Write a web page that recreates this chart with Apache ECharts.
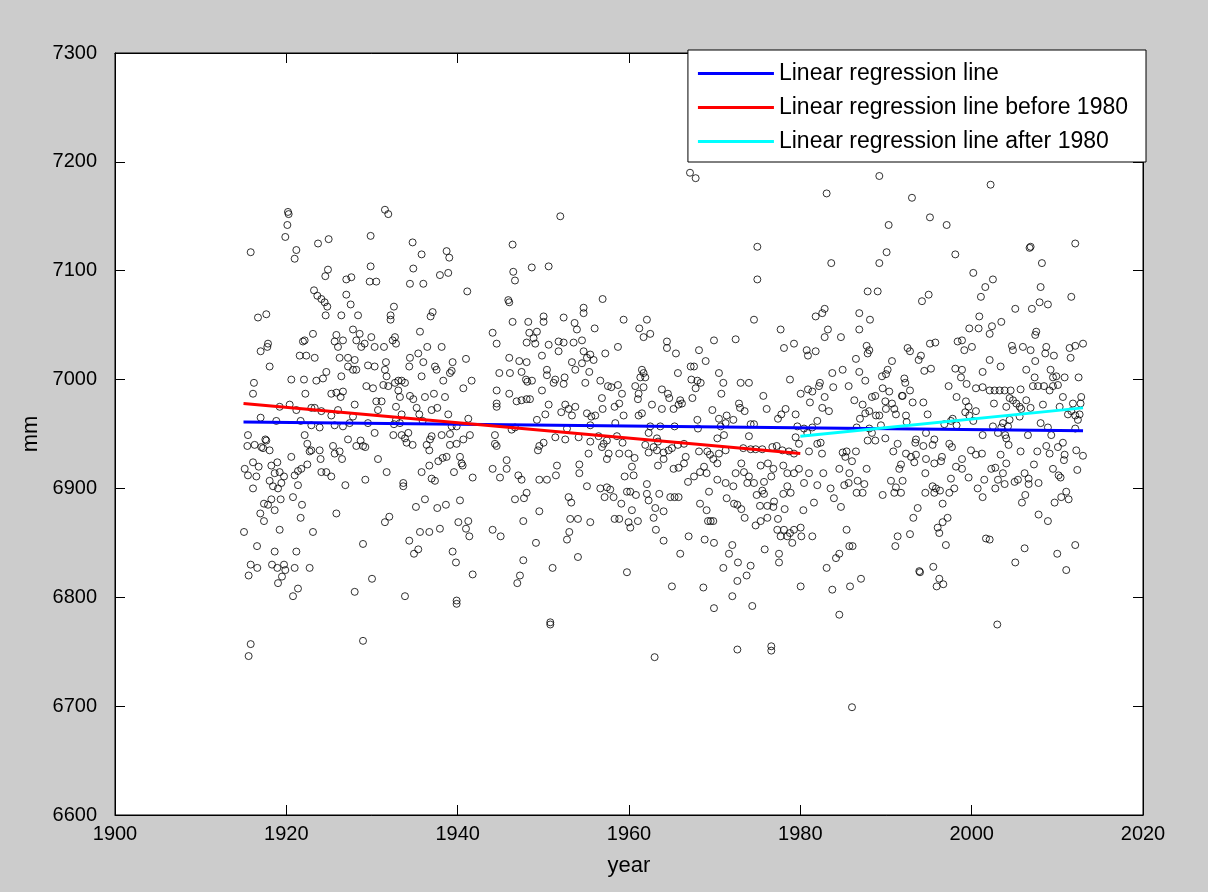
<!DOCTYPE html>
<html lang="en">
<head>
    <meta charset="UTF-8">
    <title>mm vs year</title>
    <script src="https://cdn.jsdelivr.net/npm/echarts@6.0.0/dist/echarts.min.js"></script>
    <style>
        html, body {
            margin: 0;
            padding: 0;
            background: #cccccc;
        }
        #chart {
            width: 1208px;
            height: 892px;
        }
    </style>
</head>
<body>
<div id="chart"></div>
<script type="text/javascript">
    // monthly values [year, mm], one block per period
    const pts1915to1930 = [
        [1920.19,7154],[1920.27,7152],[1920.12,7142],[1919.88,7131],[1915.84,7117],[1921.17,7119],[1920.97,7111],[1923.70,7125],
        [1924.94,7129],[1929.84,7132],[1929.84,7104],[1924.86,7101],[1924.55,7095],[1927.00,7092],[1927.59,7094],[1929.73,7090],
        [1930.50,7090],[1923.23,7082],[1923.62,7077],[1924.09,7074],[1924.47,7071],[1924.78,7067],[1924.59,7059],[1927.00,7078],
        [1927.51,7069],[1926.42,7059],[1928.37,7059],[1916.69,7057],[1917.66,7060],[1923.11,7042],[1922.14,7036],[1921.94,7035],
        [1925.84,7041],[1926.61,7036],[1925.64,7035],[1926.03,7030],[1927.78,7046],[1928.56,7042],[1928.17,7036],[1928.75,7030],
        [1929.14,7033],[1929.92,7039],[1930.31,7030],[1917.86,7033],[1917.78,7030],[1917.00,7026],[1921.56,7022],[1922.33,7022],
        [1923.31,7020],[1926.22,7020],[1927.20,7020],[1927.98,7018],[1927.78,7009],[1928.17,7009],[1929.53,7013],[1930.31,7012],
        [1927.20,7012],[1918.05,7012],[1920.58,7000],[1922.06,7000],[1923.50,6999],[1924.28,7001],[1924.67,7007],[1926.42,7003],
        [1916.22,6997],[1916.11,6987],[1922.22,6987],[1925.25,6987],[1925.84,6988],[1926.61,6989],[1926.34,6984],[1929.34,6994],
        [1930.12,6992],[1919.22,6975],[1920.39,6977],[1921.17,6972],[1922.92,6974],[1923.31,6974],[1924.09,6971],[1925.25,6967],
        [1926.03,6972],[1927.98,6977],[1927.78,6966],[1930.50,6980],[1930.70,6972],[1917.00,6965],[1918.83,6962],[1921.67,6962],
        [1922.92,6958],[1923.89,6956],[1925.64,6958],[1926.61,6957],[1927.39,6960],[1929.53,6960],[1930.31,6951],[1915.52,6949],
        [1917.66,6944],[1922.14,6949],[1927.20,6945],
        [1915.45,6939],[1916.30,6940],[1917.08,6938],[1917.28,6937],[1917.55,6945],[1918.05,6935],[1922.45,6941],[1922.72,6934],
        [1922.92,6935],[1923.89,6935],[1924.00,6927],[1925.45,6939],[1925.64,6932],[1926.22,6934],[1926.50,6927],[1928.17,6939],
        [1928.67,6944],[1928.95,6939],[1929.22,6938],[1930.70,6927],[1915.14,6918],[1916.11,6924],[1916.77,6920],[1916.50,6911],
        [1915.52,6912],[1916.11,6900],[1918.25,6921],[1918.95,6924],[1918.64,6914],[1918.05,6907],[1918.44,6902],[1919.03,6900],
        [1919.42,6905],[1919.73,6911],[1919.22,6915],[1920.58,6929],[1920.97,6912],[1921.36,6916],[1921.75,6918],[1922.45,6922],
        [1921.36,6903],[1924.09,6915],[1924.67,6915],[1925.25,6911],[1926.89,6903],[1929.22,6908],[1918.25,6890],[1917.39,6886],
        [1917.86,6885],[1918.64,6880],[1919.34,6890],[1920.78,6892],[1921.83,6885],[1916.96,6877],[1917.39,6870],[1921.67,6873],
        [1925.84,6877],[1915.06,6860],[1919.22,6862],[1923.11,6860],[1916.58,6847],[1918.64,6842],[1921.17,6842],[1928.95,6849],
        [1915.84,6830],[1916.61,6827],[1915.60,6820],[1918.33,6830],[1918.95,6827],[1919.73,6830],[1919.88,6825],[1919.49,6819],
        [1920.97,6827],[1922.72,6827],[1919.03,6813],[1921.36,6808],[1920.78,6801],[1927.98,6805],[1930.00,6817],[1915.84,6757],
        [1915.60,6746],[1928.95,6760]
    ];
    const pts1931to1948 = [
        [1931.51,7156],[1931.90,7152],[1934.74,7126],[1935.79,7115],[1938.71,7118],[1939.02,7112],[1934.82,7102],[1946.41,7124],
        [1948.65,7103],[1937.93,7096],[1938.90,7098],[1934.43,7088],[1935.99,7088],[1941.12,7081],[1946.49,7099],[1946.69,7091],
        [1945.91,7073],[1946.02,7071],[1932.56,7067],[1932.17,7059],[1932.17,7055],[1937.08,7062],[1936.84,7058],[1935.60,7044],
        [1946.41,7053],[1948.24,7053],[1944.08,7043],[1944.55,7033],[1948.05,7034],[1948.36,7043],[1932.68,7039],[1932.41,7036],
        [1932.80,7033],[1931.40,7030],[1936.45,7030],[1938.13,7030],[1935.40,7024],[1934.43,7020],[1935.99,7016],[1934.35,7012],
        [1931.63,7016],[1931.51,7009],[1937.35,7012],[1937.54,7009],[1939.41,7016],[1939.30,7008],[1939.10,7006],[1940.97,7019],
        [1946.02,7020],[1947.19,7017],[1948.05,7016],[1946.10,7006],[1947.46,7007],[1947.97,7000],[1948.13,6998],[1935.79,7003],
        [1938.32,6999],[1941.63,6999],[1940.66,6992],[1944.86,7006],[1931.70,7003],[1931.90,6994],[1932.68,6997],[1933.07,6999],
        [1933.46,6999],[1933.85,6997],[1933.07,6990],[1933.26,6984],[1931.32,6995],[1944.55,6990],[1944.55,6978],[1944.55,6975],
        [1946.02,6987],[1946.88,6980],[1947.46,6981],[1948.05,6982],[1948.44,6982],[1934.43,6985],[1934.82,6982],[1936.18,6984],
        [1937.23,6987],[1938.52,6984],[1931.12,6980],[1932.80,6975],[1935.21,6974],[1935.52,6968],[1936.96,6972],[1937.62,6974],
        [1938.90,6968],[1941.24,6964],[1933.46,6968],[1932.80,6963],[1933.26,6960],[1932.56,6959],[1935.91,6962],[1939.30,6957],
        [1939.88,6957],[1946.30,6954],[1946.69,6956],[1932.49,6949],[1933.46,6949],[1934.24,6951],[1936.96,6948],[1938.13,6949],
        [1939.10,6950],[1941.43,6949],[1944.35,6949],
        [1934.04,6942],[1934.74,6940],[1933.85,6946],[1936.38,6940],[1936.77,6945],[1939.10,6940],[1939.88,6941],[1940.66,6945],
        [1936.69,6935],[1944.35,6941],[1944.55,6939],[1931.71,6915],[1935.79,6915],[1936.69,6921],[1937.74,6925],[1938.25,6928],
        [1938.71,6929],[1940.27,6929],[1940.46,6923],[1940.58,6921],[1939.57,6915],[1941.75,6910],[1933.65,6905],[1933.65,6902],
        [1936.96,6909],[1937.35,6907],[1944.08,6918],[1944.94,6910],[1945.72,6926],[1945.72,6918],[1947.08,6912],[1947.46,6908],
        [1948.05,6896],[1947.74,6891],[1946.69,6890],[1935.13,6883],[1936.18,6890],[1937.62,6882],[1938.63,6885],[1940.27,6889],
        [1932.02,6874],[1931.51,6869],[1940.08,6869],[1941.24,6870],[1940.97,6863],[1941.36,6856],[1944.08,6862],[1945.02,6856],
        [1947.66,6870],[1935.60,6860],[1936.69,6860],[1937.93,6863],[1934.35,6852],[1935.40,6844],[1934.90,6840],[1939.41,6842],
        [1939.80,6832],[1941.75,6821],[1947.66,6834],[1947.27,6820],[1946.96,6813],[1933.85,6801],[1939.88,6797],[1939.88,6794]
    ];
    const pts1949to1966 = [
        [1951.98,7150],[1950.62,7104],[1956.92,7074],[1954.70,7066],[1954.70,7061],[1952.37,7057],[1953.65,7052],[1953.92,7046],
        [1950.03,7058],[1950.03,7053],[1955.99,7047],[1959.37,7055],[1962.09,7055],[1961.20,7047],[1961.70,7039],[1962.48,7042],
        [1964.43,7035],[1964.43,7029],[1965.48,7024],[1949.25,7044],[1948.86,7038],[1949.06,7033],[1950.62,7032],[1951.78,7035],
        [1952.37,7034],[1951.78,7026],[1953.53,7034],[1954.51,7036],[1949.84,7022],[1954.70,7026],[1955.48,7023],[1955.09,7020],
        [1955.87,7018],[1954.51,7015],[1953.34,7016],[1953.73,7009],[1955.36,7007],[1957.23,7024],[1958.71,7030],[1950.42,7009],
        [1950.42,7004],[1951.39,7000],[1951.20,6997],[1952.48,7002],[1952.37,6996],[1954.90,6997],[1956.65,6999],[1961.51,7009],
        [1961.70,7006],[1961.32,7002],[1961.90,7002],[1960.73,6994],[1961.70,6993],[1961.12,6987],[1961.04,6982],[1957.54,6994],
        [1957.93,6993],[1958.71,6995],[1959.18,6987],[1958.86,6978],[1958.32,6975],[1963.84,6991],[1964.54,6987],[1964.70,6983],
        [1965.71,7006],[1965.98,6981],[1966.18,6978],[1948.67,6999],[1949.84,6990],[1950.62,6977],[1950.23,6968],[1949.25,6963],
        [1952.56,6977],[1953.73,6975],[1952.09,6970],[1952.95,6973],[1953.34,6967],[1955.09,6969],[1955.60,6966],[1956.06,6967],
        [1956.92,6973],[1956.84,6983],[1959.37,6967],[1958.40,6960],[1961.12,6967],[1961.51,6969],[1962.68,6977],[1963.84,6973],
        [1965.20,6973],[1965.79,6977],[1952.76,6955],[1955.48,6958],[1962.48,6957],[1963.65,6957],[1965.32,6957],[1962.29,6951],
        [1951.40,6947],[1952.56,6945],[1954.12,6947],[1956.45,6948],[1958.59,6948],[1963.26,6946],
        [1950.03,6942],[1949.53,6939],[1949.37,6935],[1955.48,6943],[1957.04,6941],[1957.42,6944],[1959.25,6942],[1956.84,6938],
        [1955.28,6932],[1957.42,6927],[1957.62,6932],[1958.86,6932],[1959.95,6932],[1960.65,6928],[1960.34,6920],[1961.90,6940],
        [1962.29,6933],[1962.87,6938],[1963.38,6943],[1963.26,6935],[1964.04,6933],[1964.62,6935],[1965.01,6937],[1965.71,6940],
        [1963.38,6921],[1964.04,6927],[1965.20,6918],[1965.79,6919],[1951.59,6921],[1951.47,6912],[1950.42,6908],[1949.53,6908],
        [1954.20,6922],[1954.20,6914],[1959.49,6911],[1960.54,6912],[1955.09,6902],[1956.65,6900],[1957.42,6901],[1957.81,6899],
        [1957.15,6892],[1958.20,6892],[1959.10,6886],[1959.76,6897],[1960.15,6897],[1960.81,6894],[1960.34,6880],[1962.09,6904],
        [1962.09,6895],[1962.29,6889],[1963.07,6882],[1962.87,6873],[1964.04,6879],[1963.53,6895],[1964.82,6892],[1965.32,6892],
        [1965.79,6892],[1952.95,6892],[1953.26,6887],[1949.53,6879],[1953.14,6872],[1954.04,6872],[1955.48,6869],[1958.32,6872],
        [1958.86,6872],[1959.95,6869],[1960.15,6864],[1961.04,6870],[1953.03,6860],[1952.76,6853],[1949.14,6850],[1963.14,6862],
        [1964.04,6852],[1954.04,6837],[1951.08,6827],[1959.76,6823],[1965.98,6840],[1965.01,6810],[1950.81,6777],[1950.81,6775],
        [1962.99,6745]
    ];
    const pts1966to1984 = [
        [1967.12,7190],[1967.78,7185],[1983.07,7171],[1974.98,7122],[1974.98,7092],[1983.61,7107],[1974.59,7055],[1982.84,7065],
        [1981.79,7058],[1982.56,7061],[1983.22,7046],[1982.84,7039],[1977.70,7046],[1972.45,7037],[1969.92,7036],[1968.17,7027],
        [1968.95,7017],[1978.09,7029],[1979.26,7033],[1980.74,7027],[1980.89,7022],[1981.79,7026],[1967.20,7012],[1967.59,7012],
        [1967.28,7000],[1967.98,6999],[1968.37,6997],[1967.78,6992],[1970.50,7006],[1971.01,6997],[1970.78,6987],[1967.40,6983],
        [1973.03,6997],[1974.00,6997],[1975.68,6985],[1978.79,7000],[1980.04,6987],[1980.89,6991],[1981.40,6989],[1982.18,6994],
        [1982.29,6997],[1981.12,6979],[1982.84,6984],[1983.73,7006],[1983.84,6993],[1972.84,6978],[1972.96,6974],[1973.50,6971],
        [1969.73,6972],[1970.50,6964],[1971.40,6967],[1971.28,6960],[1972.18,6963],[1970.70,6957],[1976.07,6973],[1977.39,6964],
        [1977.78,6968],[1978.28,6973],[1979.45,6968],[1982.56,6974],[1983.34,6971],[1981.98,6962],[1967.98,6963],[1968.05,6955],
        [1974.20,6959],[1974.59,6959],[1979.65,6957],[1980.43,6955],[1981.40,6956],[1980.81,6951],[1971.09,6949],[1974.00,6948],
        [1970.31,6946],[1979.45,6947],
        [1966.42,6941],[1966.62,6929],[1966.42,6923],[1968.17,6934],[1969.14,6934],[1969.45,6931],[1969.84,6927],[1970.31,6923],
        [1971.28,6935],[1970.50,6932],[1968.76,6920],[1968.29,6915],[1966.89,6906],[1967.59,6911],[1969.06,6914],[1973.34,6937],
        [1974.20,6936],[1974.78,6936],[1975.56,6936],[1976.73,6938],[1977.24,6939],[1977.90,6935],[1978.67,6934],[1979.26,6932],
        [1979.84,6941],[1981.98,6941],[1982.37,6942],[1981.01,6934],[1982.53,6932],[1973.11,6923],[1972.45,6914],[1973.42,6915],
        [1974.00,6911],[1973.81,6905],[1974.59,6905],[1975.37,6921],[1976.22,6923],[1976.85,6918],[1975.76,6906],[1976.61,6911],
        [1970.31,6908],[1971.28,6905],[1972.18,6902],[1969.34,6897],[1978.01,6921],[1978.48,6914],[1979.26,6914],[1979.84,6918],
        [1981.01,6914],[1982.68,6914],[1983.53,6900],[1983.92,6891],[1980.43,6905],[1981.98,6903],[1978.48,6902],[1978.87,6896],
        [1978.01,6895],[1974.90,6894],[1975.56,6898],[1975.76,6895],[1976.15,6884],[1976.93,6888],[1976.85,6883],[1975.29,6884],
        [1971.40,6891],[1972.26,6886],[1973.11,6881],[1973.50,6873],[1972.65,6885],[1968.29,6886],[1969.06,6880],[1969.22,6870],
        [1969.53,6870],[1969.84,6870],[1974.78,6866],[1975.37,6870],[1976.15,6873],[1977.39,6872],[1978.17,6881],[1980.35,6880],
        [1981.59,6887],[1977.31,6862],[1978.09,6862],[1978.79,6859],[1979.26,6862],[1980.04,6864],[1980.12,6856],[1981.40,6856],
        [1977.70,6856],[1978.48,6856],[1979.06,6850],[1966.96,6856],[1968.83,6853],[1969.92,6850],[1972.06,6848],[1971.67,6840],
        [1972.72,6832],[1974.20,6829],[1973.73,6820],[1972.65,6815],[1971.01,6827],[1975.84,6844],[1977.51,6840],[1977.51,6832],
        [1968.68,6809],[1972.06,6801],[1969.92,6790],[1974.39,6792],[1980.04,6810],[1983.07,6827],[1983.73,6807],[1972.65,6752],
        [1976.61,6755],[1976.61,6751]
    ];
    const pts1984to2001 = [
        [1989.22,7187],[1993.03,7167],[1995.13,7149],[1997.08,7142],[1990.31,7142],[1990.07,7117],[1989.22,7107],[1998.09,7115],
        [2000.19,7098],[2001.59,7085],[2001.08,7076],[1987.86,7081],[1989.03,7081],[1994.20,7072],[1994.98,7078],[1986.88,7061],
        [1988.13,7055],[1986.88,7046],[1984.74,7039],[2000.89,7058],[1999.72,7047],[2000.81,7047],[1995.13,7033],[1995.76,7034],
        [1998.36,7035],[1998.87,7036],[1999.14,7027],[2000.03,7030],[1987.74,7031],[1987.86,7024],[1988.05,7027],[1992.52,7029],
        [1992.80,7026],[1994.08,7022],[1993.81,7018],[1994.47,7008],[1995.25,7010],[1986.49,7019],[1984.94,7009],[1986.88,7007],
        [1987.58,6999],[1985.64,6994],[1990.70,7017],[1990.19,7009],[1990.00,7005],[1989.53,7003],[1992.14,7001],[1992.25,6997],
        [1992.80,6990],[1991.86,6985],[1993.11,6979],[1994.36,6979],[1998.09,7010],[1998.87,7009],[1998.75,7002],[1997.31,6994],
        [1999.41,6996],[2000.50,6992],[2001.28,6993],[2001.28,7007],[1989.61,6992],[1990.38,6989],[1989.92,6980],[1990.70,6978],
        [1989.99,6973],[1988.36,6984],[1988.75,6985],[1986.30,6981],[1987.27,6977],[1988.05,6971],[1988.83,6967],[1989.22,6967],
        [1987.58,6969],[1986.96,6964],[1986.57,6956],[1988.05,6955],[1988.36,6951],[1989.41,6958],[1990.97,6973],[1991.16,6968],
        [1991.94,6985],[1992.33,6967],[1992.41,6961],[1994.86,6968],[1998.24,6984],[1999.33,6980],[1999.64,6975],[1999.25,6970],
        [1999.72,6967],[2000.19,6962],[2000.50,6971],[1996.81,6959],[1997.58,6962],[1998.24,6958],[1997.78,6964],[1994.67,6951],
        [1993.50,6945],[1995.64,6945],[2001.28,6949],
        [1987.86,6944],[1988.75,6944],[1989.92,6946],[1991.36,6941],[1993.42,6942],[1994.36,6939],[1995.44,6940],[1984.94,6933],
        [1985.40,6934],[1986.49,6934],[1985.25,6929],[1986.03,6925],[1984.55,6918],[1987.74,6918],[1990.85,6934],[1992.33,6932],
        [1992.92,6929],[1993.50,6931],[1993.30,6924],[1991.75,6922],[1991.55,6918],[1994.67,6927],[1995.64,6923],[1996.42,6925],
        [1996.53,6929],[1997.39,6941],[1997.70,6938],[1998.87,6927],[1998.17,6920],[1998.87,6918],[1999.64,6910],[1999.92,6935],
        [2000.50,6931],[2001.20,6932],[1994.59,6914],[1985.72,6914],[1985.64,6905],[1985.13,6903],[1986.69,6907],[1987.47,6904],
        [1986.57,6896],[1987.27,6896],[1989.61,6894],[1990.58,6907],[1991.16,6901],[1991.94,6907],[1990.97,6896],[1991.75,6896],
        [1994.59,6896],[1995.44,6902],[1995.83,6900],[1996.30,6898],[1995.64,6896],[1997.58,6909],[1997.97,6900],[1997.39,6896],
        [2000.70,6900],[2001.28,6892],[2001.47,6908],[1984.74,6883],[1996.61,6886],[1993.70,6882],[1993.19,6873],[1997.19,6873],
        [1996.61,6869],[1996.03,6864],[1996.22,6859],[1996.99,6848],[1985.40,6862],[1991.36,6856],[1992.80,6858],[1991.09,6847],
        [1985.72,6847],[1986.10,6847],[1984.55,6840],[1984.16,6836],[2001.67,6854],[1993.89,6824],[1993.97,6823],[1995.52,6828],
        [1996.22,6817],[1995.91,6810],[1996.69,6812],[1987.08,6817],[1985.80,6810],[1984.55,6784],[1986.03,6699]
    ];
    const pts2002to2013 = [
        [2002.21,7179],[2006.88,7122],[2006.76,7121],[2012.09,7125],[2008.20,7107],[2008.05,7085],[2002.48,7092],[2011.63,7076],
        [2007.93,7071],[2008.90,7069],[2007.03,7065],[2005.09,7065],[2003.46,7053],[2002.37,7049],[2002.10,7042],[2007.54,7044],
        [2007.42,7041],[2004.70,7031],[2005.98,7030],[2006.88,7027],[2004.82,7027],[2008.71,7030],[2008.59,7024],[2009.60,7022],
        [2011.43,7029],[2012.09,7031],[2013.00,7033],[2011.55,7020],[2007.42,7017],[2002.10,7018],[2003.38,7012],[2006.37,7009],
        [2009.21,7009],[2009.88,7003],[2009.49,7002],[2010.85,7002],[2012.48,7002],[2007.35,7002],[2007.15,6994],[2007.74,6994],
        [2008.44,6994],[2009.10,6990],[2009.49,6994],[2010.07,6995],[2002.10,6990],[2002.68,6990],[2003.26,6990],[2003.85,6990],
        [2004.55,6990],[2005.71,6991],[2004.43,6983],[2004.82,6981],[2005.21,6978],[2005.60,6975],[2005.79,6973],[2002.60,6978],
        [2004.04,6975],[2006.37,6981],[2006.88,6974],[2008.32,6977],[2010.65,6984],[2010.27,6975],[2011.82,6978],[2012.79,6984],
        [2012.71,6978],[2011.24,6968],[2011.63,6971],[2012.09,6967],[2012.60,6968],[2012.40,6963],[2004.43,6963],[2005.60,6966],
        [2002.48,6957],[2003.46,6956],[2004.24,6957],[2003.65,6960],[2008.05,6960],[2008.90,6956],[2012.09,6955],[2006.57,6949],
        [2009.29,6949],[2003.07,6951],[2003.92,6949],
        [2004.04,6946],[2004.31,6940],[2005.71,6934],[2007.66,6934],[2008.71,6939],[2009.10,6932],[2010.07,6938],[2010.65,6942],
        [2010.85,6931],[2010.77,6926],[2012.21,6935],[2012.99,6930],[2003.38,6931],[2004.04,6923],[2002.76,6919],[2002.29,6918],
        [2003.65,6914],[2003.07,6908],[2002.76,6900],[2005.01,6906],[2005.40,6908],[2006.18,6914],[2006.65,6909],[2006.65,6904],
        [2007.81,6905],[2007.27,6922],[2009.49,6918],[2010.15,6912],[2010.38,6910],[2012.33,6917],[2003.85,6904],[2006.26,6894],
        [2005.87,6887],[2009.68,6887],[2011.04,6897],[2010.46,6892],[2011.32,6890],[2007.81,6876],[2008.90,6870],[2002.10,6853],
        [2006.18,6845],[2012.09,6848],[2009.99,6840],[2005.09,6832],[2011.04,6825],[2002.99,6775]
    ];

    // regression lines, end points
    const fitAll = [[1915.0, 6961], [2013.0, 6953]];
    const fitBefore1980 = [[1915.0, 6978], [1980.0, 6932]];
    const fitAfter1980 = [[1980.0, 6948], [2013.0, 6974]];

    const lineNames = ['Linear regression line', 'Linear regression line before 1980', 'Linear regression line after 1980'];

    const allPoints = [].concat(pts1915to1930, pts1931to1948, pts1949to1966, pts1966to1984, pts1984to2001, pts2002to2013);

    const font = "'Liberation Sans', Arial, sans-serif";
    const tick = {show: true, inside: true, length: 10, lineStyle: {color: '#000', width: 1}};
    const line = {show: true, onZero: false, lineStyle: {color: '#000', width: 1}};
    // plain numbers, no thousands separator
    const plain = function (v) { return String(v); };

    let myChart = echarts.init(document.getElementById('chart'), null, {renderer: 'canvas'});
    let option = {
        animation: false,
        backgroundColor: '#cccccc',
        grid: {
            left: 115, top: 53, width: 1028, height: 762,
            show: true, backgroundColor: '#ffffff', borderColor: '#000', borderWidth: 1
        },
        legend: {
            // thin rect icons so the legend shows plain line samples
            data: lineNames.map(function (n) { return {name: n, icon: 'rect'}; }),
            orient: 'vertical',
            right: 62,
            top: 50,
            padding: [12, 18, 9, 10],
            itemWidth: 76,
            itemHeight: 3,
            itemGap: 11,
            backgroundColor: '#ffffff',
            borderColor: '#000',
            borderWidth: 1,
            borderRadius: 0,
            textStyle: {fontFamily: font, fontSize: 23, color: '#000'}
        },
        xAxis: [{
            type: 'value', min: 1900, max: 2020, interval: 20,
            name: 'year', nameLocation: 'middle', nameGap: 40,
            nameTextStyle: {fontFamily: font, fontSize: 22, color: '#000'},
            axisLine: line, axisTick: tick, splitLine: {show: false},
            axisLabel: {fontFamily: font, fontSize: 20, color: '#000', margin: 9, formatter: plain}
        }, {
            type: 'value', position: 'top', min: 1900, max: 2020, interval: 20,
            axisLine: line, axisTick: tick, splitLine: {show: false}, axisLabel: {show: false}
        }],
        yAxis: [{
            type: 'value', min: 6600, max: 7300, interval: 100,
            name: 'mm', nameLocation: 'middle', nameGap: 63,
            nameTextStyle: {fontFamily: font, fontSize: 22, color: '#000'},
            axisLine: line, axisTick: tick, splitLine: {show: false},
            axisLabel: {fontFamily: font, fontSize: 20, color: '#000', margin: 18, formatter: plain}
        }, {
            type: 'value', position: 'right', min: 6600, max: 7300, interval: 100,
            axisLine: line, axisTick: tick, splitLine: {show: false}, axisLabel: {show: false}
        }],
        series: [
            {
                name: 'data',
                type: 'scatter',
                data: allPoints,
                symbol: 'circle',
                symbolSize: 7,
                itemStyle: {color: 'rgba(0,0,0,0)', borderColor: '#000', borderWidth: 1},
                silent: true
            },
            {
                name: lineNames[0], type: 'line', data: fitAll, symbol: 'none',
                lineStyle: {color: '#0000ff', width: 3}, itemStyle: {color: '#0000ff'}, z: 3
            },
            {
                name: lineNames[1], type: 'line', data: fitBefore1980, symbol: 'none',
                lineStyle: {color: '#ff0000', width: 3}, itemStyle: {color: '#ff0000'}, z: 3
            },
            {
                name: lineNames[2], type: 'line', data: fitAfter1980, symbol: 'none',
                lineStyle: {color: '#00ffff', width: 3}, itemStyle: {color: '#00ffff'}, z: 3
            }
        ]
    };
    myChart.setOption(option);
</script>
</body>
</html>
